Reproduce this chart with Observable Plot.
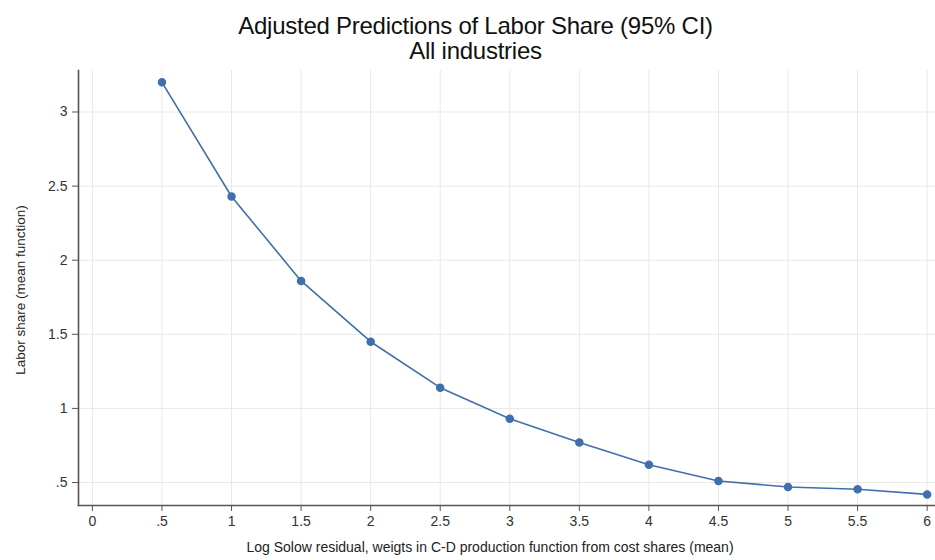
<!DOCTYPE html>
<html>
<head>
<meta charset="utf-8">
<script src="https://cdn.jsdelivr.net/npm/d3@7"></script>
<script src="https://cdn.jsdelivr.net/npm/@observablehq/plot@0.6"></script>
<style>
  html, body { margin: 0; padding: 0; background: #fff; }
  #wrap { width: 935px; height: 560px; position: relative; font-family: "Liberation Sans", Arial, sans-serif; }
  #title { position: absolute; left: 8px; top: 0; width: 935px; text-align: center; color: #111; font-size: 24px; line-height: 25px; letter-spacing: -0.25px; padding-top: 13px; }
  #chart { position: absolute; left: 0; top: 62px; }
</style>
</head>
<body>
<div id="wrap">
  <div id="title">Adjusted Predictions of Labor Share (95% CI)<br>All industries</div>
  <div id="chart"></div>
</div>
<script>
// Solow residual levels and predicted labor share at each level
const solow = [0.5, 1, 1.5, 2, 2.5, 3, 3.5, 4, 4.5, 5, 5.5, 6];
const laborShare = [3.2, 2.43, 1.86, 1.45, 1.14, 0.93, 0.77, 0.62, 0.51, 0.47, 0.455, 0.42];

// Axis ticks and their Stata-style labels
const xTicks = [0, 0.5, 1, 1.5, 2, 2.5, 3, 3.5, 4, 4.5, 5, 5.5, 6];
const xTickLabels = ["0", ".5", "1", "1.5", "2", "2.5", "3", "3.5", "4", "4.5", "5", "5.5", "6"];
const yTicks = [0.5, 1, 1.5, 2, 2.5, 3];
const yTickLabels = [".5", "1", "1.5", "2", "2.5", "3"];

const xTitle = "Log Solow residual, weigts in C-D production function from cost shares (mean)";
const yTitle = "Labor share (mean function)";

const rows = solow.map((x, i) => ({x, y: laborShare[i]}));
const lineColor = "#4070aa";
const axisColor = "#555";

const chart = Plot.plot({
  width: 935,
  height: 498,
  marginTop: 8,
  marginLeft: 78,
  marginRight: 0,
  marginBottom: 55,
  style: {fontFamily: "Liberation Sans, Arial, sans-serif", fontSize: "14px", color: "#333", background: "#fff"},
  x: {domain: [-0.1, 6.06]},
  y: {domain: [0.345, 3.28]},
  marks: [
    Plot.gridX(xTicks, {stroke: "#e8e8e8", strokeOpacity: 1}),
    Plot.gridY(yTicks, {stroke: "#e8e8e8", strokeOpacity: 1}),
    Plot.frame({anchor: "left", stroke: axisColor, strokeWidth: 1.6}),
    Plot.frame({anchor: "bottom", stroke: axisColor, strokeWidth: 1.6}),
    Plot.axisX(xTicks, {
      tickFormat: (d, i) => xTickLabels[i],
      tickSize: 6, tickPadding: 5, stroke: axisColor, fill: "#333", fontSize: 14, label: null
    }),
    Plot.axisY(yTicks, {
      tickFormat: (d, i) => yTickLabels[i],
      tickSize: 6, tickPadding: 5, stroke: axisColor, fill: "#333", fontSize: 14, label: null
    }),
    Plot.text([xTitle], {frameAnchor: "bottom", dx: -17, dy: 46, fontSize: 14, fill: "#222"}),
    Plot.text([yTitle], {frameAnchor: "left", textAnchor: "middle", dx: -58, dy: 2, rotate: -90, fontSize: 13.5, fill: "#222"}),
    Plot.line(rows, {x: "x", y: "y", stroke: lineColor, strokeWidth: 1.6}),
    Plot.dot(rows, {x: "x", y: "y", r: 3.5, fill: lineColor, stroke: lineColor})
  ]
});
document.getElementById("chart").appendChild(chart);
</script>
</body>
</html>
